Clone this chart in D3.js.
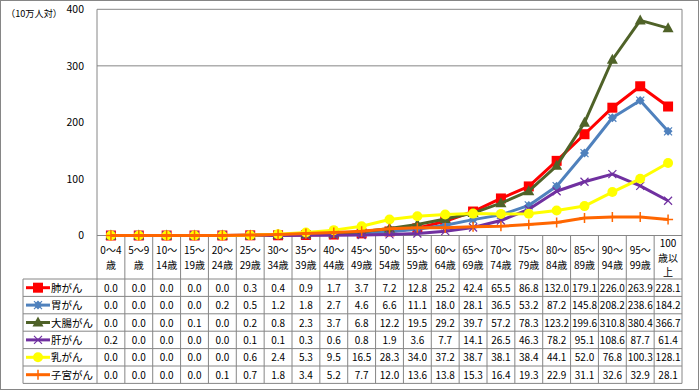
<!DOCTYPE html>
<html><head><meta charset="utf-8">
<script src="https://cdn.jsdelivr.net/npm/d3@7"></script>
<style>body{margin:0;background:#fff}svg{display:block}text{font-family:"Noto Sans CJK JP","Noto Sans",sans-serif}</style>
</head><body><svg id="c" width="700" height="391"></svg>
<script>
const categories = [["0～4","歳"],["5～9","歳"],["10～","14歳"],["15～","19歳"],["20～","24歳"],["25～","29歳"],["30～","34歳"],["35～","39歳"],["40～","44歳"],["45～","49歳"],["50～","54歳"],["55～","59歳"],["60～","64歳"],["65～","69歳"],["70～","74歳"],["75～","79歳"],["80～","84歳"],["85～","89歳"],["90～","94歳"],["95～","99歳"],["100","歳以","上"]];
const seriesNames = ["肺がん","胃がん","大腸がん","肝がん","乳がん","子宮がん"];
const lung = [0.0,0.0,0.0,0.0,0.0,0.3,0.4,0.9,1.7,3.7,7.2,12.8,25.2,42.4,65.5,86.8,132.0,179.1,226.0,263.9,228.1];
const stomach = [0.0,0.0,0.0,0.0,0.2,0.5,1.2,1.8,2.7,4.6,6.6,11.1,18.0,28.1,36.5,53.2,87.2,145.8,208.2,238.6,184.2];
const colon = [0.0,0.0,0.0,0.1,0.0,0.2,0.8,2.3,3.7,6.8,12.2,19.5,29.2,39.7,57.2,78.3,123.2,199.6,310.8,380.4,366.7];
const liver = [0.2,0.0,0.0,0.0,0.0,0.1,0.1,0.3,0.6,0.8,1.9,3.6,7.7,14.1,26.5,46.3,78.2,95.1,108.6,87.7,61.4];
const breast = [0.0,0.0,0.0,0.0,0.0,0.6,2.4,5.3,9.5,16.5,28.3,34.0,37.2,38.7,38.1,38.4,44.1,52.0,76.8,100.3,128.1];
const uterus = [0.0,0.0,0.0,0.0,0.1,0.7,1.8,3.4,5.2,7.7,12.0,13.6,13.8,15.3,16.4,19.3,22.9,31.1,32.6,32.9,28.1];
const yTicks = [0,100,200,300,400];
const unitLabel = "（10万人対）";

const seriesValues = [lung, stomach, colon, liver, breast, uterus];
const colors = ["#FF0000","#4F81BD","#4F6228","#7030A0","#FFFF00","#FF6600"];
const markers = ["square","diamond","triangle","x","circle","plus"];

const svg = d3.select("#c");
const G = "#868686";
const L = 97, R = 682, T = 9.3, B = 235.5;
const x = d3.scaleBand().domain(d3.range(categories.length)).range([L, R]).padding(0);
const y = d3.scaleLinear().domain([0,400]).range([B, T]);

svg.append("rect").attr("x",0.5).attr("y",0.5).attr("width",698).attr("height",389).attr("fill","none").attr("stroke",G);

svg.append("line").attr("x1",L).attr("x2",R).attr("y1",y(400)).attr("y2",y(400)).attr("stroke",G);
svg.append("line").attr("x1",L).attr("x2",R).attr("y1",y(300)).attr("y2",y(300)).attr("stroke",G);
svg.append("line").attr("x1",L).attr("x2",R).attr("y1",y(0)).attr("y2",y(0)).attr("stroke",G);

const ya = svg.append("g").attr("transform",`translate(${L-13},0)`)
  .call(d3.axisLeft(y).tickValues(yTicks).tickSize(0).tickPadding(0));
ya.select(".domain").remove();
ya.selectAll("text").attr("font-size",10.5).attr("fill","#000").attr("font-family","\"Liberation Sans\",sans-serif");
svg.append("text").attr("x",6).attr("y",17).attr("font-size",9.5).attr("textLength",56).attr("lengthAdjust","spacingAndGlyphs").text(unitLabel);

const rowTop = 279, rowH = 17.4, legL = 23;
const nRows = seriesNames.length;
const tableBottom = rowTop + rowH*nRows;
svg.append("line").attr("x1",L).attr("x2",L).attr("y1",T).attr("y2",tableBottom).attr("stroke",G);
svg.append("line").attr("x1",R).attr("x2",R).attr("y1",T).attr("y2",tableBottom).attr("stroke",G);
categories.forEach((c,i)=>{
  if(i>0) svg.append("line").attr("x1",x(i)).attr("x2",x(i)).attr("y1",B).attr("y2",tableBottom).attr("stroke",G);
});
svg.append("line").attr("x1",legL).attr("x2",legL).attr("y1",rowTop).attr("y2",tableBottom).attr("stroke",G);
for(let r=0;r<=nRows;r++){
  svg.append("line").attr("x1",legL).attr("x2",R).attr("y1",rowTop+r*rowH).attr("y2",rowTop+r*rowH).attr("stroke",G);
}
categories.forEach((c,i)=>{
  const cx = x(i)+x.bandwidth()/2;
  const startY = c.length===3 ? 247 : 254;
  c.forEach((t,k)=>{
    svg.append("text").attr("x",cx).attr("y",startY+k*14.5).attr("text-anchor","middle").attr("font-size",10).text(t);
  });
});
seriesValues.forEach((vals,r)=>{
  const cy = rowTop + r*rowH + rowH/2 + 4;
  vals.forEach((v,i)=>{
    svg.append("text").attr("x",x(i)+x.bandwidth()/2).attr("y",cy).attr("text-anchor","middle")
      .attr("font-size",10).attr("font-family","\"Liberation Sans\",sans-serif").text(v.toFixed(1));
  });
});

function drawMarker(g, type, cx, cy, color){
  if(type==="square") g.append("rect").attr("x",cx-5).attr("y",cy-5).attr("width",10).attr("height",10).attr("fill",color);
  else if(type==="diamond"){ g.append("path").attr("d",`M${cx},${cy-4.5}L${cx+4.5},${cy}L${cx},${cy+4.5}L${cx-4.5},${cy}Z`).attr("fill",color);
    g.append("path").attr("d",`M${cx-4},${cy-4}L${cx+4},${cy+4}M${cx-4},${cy+4}L${cx+4},${cy-4}`).attr("stroke",color).attr("stroke-width",1.2);}
  else if(type==="triangle") g.append("path").attr("d",`M${cx},${cy-6}L${cx+5.5},${cy+4}L${cx-5.5},${cy+4}Z`).attr("fill",color);
  else if(type==="x") g.append("path").attr("d",`M${cx-4},${cy-4}L${cx+4},${cy+4}M${cx-4},${cy+4}L${cx+4},${cy-4}`).attr("stroke",color).attr("stroke-width",1.2);
  else if(type==="circle") g.append("circle").attr("cx",cx).attr("cy",cy).attr("r",5).attr("fill",color);
  else if(type==="plus") g.append("path").attr("d",`M${cx-5},${cy}L${cx+5},${cy}M${cx},${cy-5}L${cx},${cy+5}`).attr("stroke",color).attr("stroke-width",1.5);
}

const line = d3.line().x((d,i)=>x(i)+x.bandwidth()/2).y(d=>y(d));
seriesValues.forEach((vals,s)=>{
  const g = svg.append("g");
  g.append("path").datum(vals).attr("d",line).attr("fill","none").attr("stroke",colors[s]).attr("stroke-width",3).attr("stroke-linejoin","round");
  vals.forEach((v,i)=>drawMarker(g, markers[s], x(i)+x.bandwidth()/2, y(v), colors[s]));
});

seriesNames.forEach((n,r)=>{
  const cy = rowTop + r*rowH + rowH/2;
  const g = svg.append("g");
  g.append("line").attr("x1",26).attr("x2",50).attr("y1",cy).attr("y2",cy).attr("stroke",colors[r]).attr("stroke-width",3);
  drawMarker(g, markers[r], 38, cy, colors[r]);
  g.append("text").attr("x",51).attr("y",cy+4).attr("font-size",10.5).text(n);
});
</script></body></html>
